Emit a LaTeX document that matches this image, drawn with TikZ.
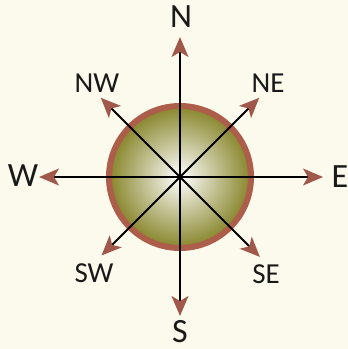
\documentclass[tikz,border=0pt]{standalone}
\usepackage{fontspec}
\setmainfont{Carlito}
\usetikzlibrary{arrows.meta}
\definecolor{paper}{HTML}{FCFAEC}
\definecolor{olivebody}{HTML}{868428}
\definecolor{rimred}{HTML}{AC5E4B}
\definecolor{tipred}{HTML}{A0584A}
\tikzset{
  ray/.style={line width=1.8pt, black, -{Stealth[length=20pt,width=17pt,inset=5pt,color=tipred]}},
  mainlbl/.style={font=\fontsize{34}{34}\selectfont, text=black!90, inner sep=0pt},
  sidelbl/.style={font=\fontsize{29}{29}\selectfont, text=black!90, inner sep=0pt}
}
\begin{document}
\begin{tikzpicture}[x=1pt,y=1pt]
\fill[paper] (-180,-172) rectangle (168,177);
\useasboundingbox (-180,-172) rectangle (168,177);
% Globe
\coordinate (c) at (0,0);
\shade[inner color=white, outer color=olivebody] (c) circle (72);
\draw[rimred, line width=6pt] (c) circle (71);
% Rays
\foreach \ang/\len/\nm in {90/140/N, 270/139/S, 0/143/E, 180/141/W,
                           45/112/NE, 135/112/NW, 225/111/SW, 315/113/SE}
    \coordinate (tip\nm) at (\ang:\len);
\foreach \nm in {N,S,E,W,NE,NW,SW,SE}
    \draw[ray] (c) -- (tip\nm);
% Labels
\node[mainlbl] (lblN) at (1,160) {N};
\node[mainlbl] (lblS) at (0,-155) {S};
\node[mainlbl] (lblE) at (160,0) {E};
\node[mainlbl] (lblW) at (-157,1) {W};
\node[sidelbl] (lblNW) at (-83,94) {NW};
\node[sidelbl] (lblNE) at (88,94) {NE};
\node[sidelbl] (lblSW) at (-86,-96) {SW};
\node[sidelbl] (lblSE) at (86,-97) {SE};
\end{tikzpicture}
\end{document}
